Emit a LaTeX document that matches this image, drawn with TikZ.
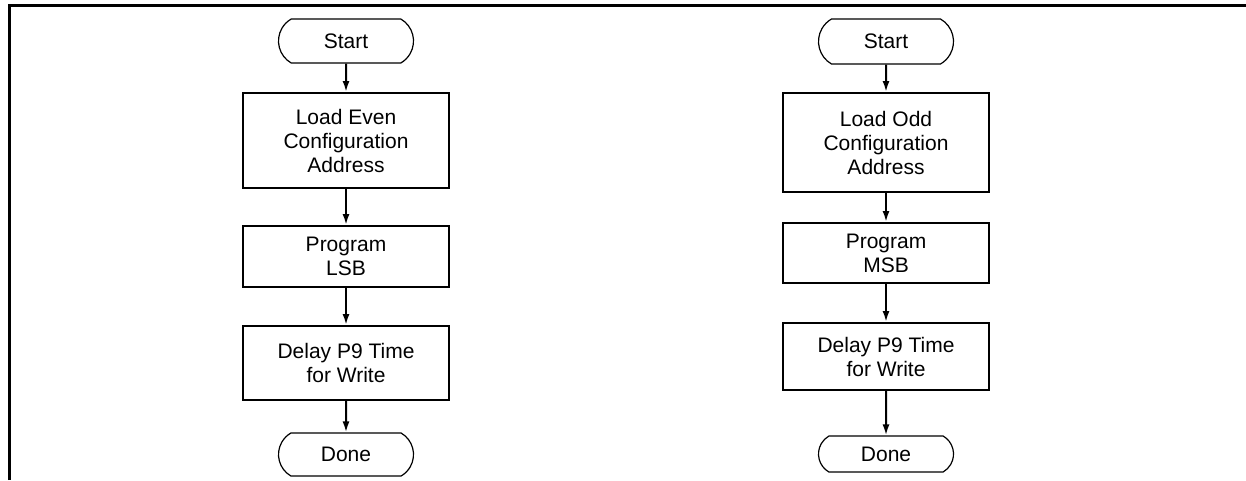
\documentclass[tikz,border=0pt]{standalone}
\usepackage{fontspec}
\setmainfont{Liberation Sans}
\usetikzlibrary{shapes.misc,arrows.meta}
\tikzset{
  base/.style={font=\fontsize{21}{24}\selectfont, align=center, inner sep=0pt},
  term/.style={base, draw, line width=1.2pt, rounded rectangle, rounded rectangle arc length=120, minimum width=135pt, minimum height=44pt},
  proc/.style={base, draw, line width=2pt, rectangle, minimum width=206pt},
  flow/.style={line width=2pt, -{Latex[length=11pt,width=7pt]}},
  frameline/.style={line width=3pt}
}
\begin{document}
\begin{tikzpicture}[x=1pt,y=-1pt]
\useasboundingbox (0,0) rectangle (1246,480);
\coordinate (fa) at (9,480);
\coordinate (fb) at (9,5);
\coordinate (fc) at (1246,5);
\draw[frameline] (fa) -- (fb) -- (fc);

% left flow
\node[term] (ls) at (346,41) {Start};
\node[proc, minimum height=95pt] (l1) at (346,140.5) {Load Even\\Configuration\\Address};
\node[proc, minimum height=61pt] (l2) at (346,256.5) {Program\\LSB};
\node[proc, minimum height=74pt] (l3) at (346,363) {Delay P9 Time\\for Write};
\node[term, minimum height=43pt] (ld) at (346,454.5) {Done};
\draw[flow] (ls) -- (l1);
\draw[flow] (l1) -- (l2);
\draw[flow] (l2) -- (l3);
\draw[flow] (l3) -- (ld);

% right flow
\node[term, minimum height=45pt] (rs) at (886,41.5) {Start};
\node[proc, minimum height=99pt] (r1) at (886,142.5) {Load Odd\\Configuration\\Address};
\node[proc, minimum height=60pt] (r2) at (886,253) {Program\\MSB};
\node[proc, minimum height=67pt] (r3) at (886,356.5) {Delay P9 Time\\for Write};
\node[term, minimum height=36pt] (rd) at (886,454) {Done};
\draw[flow] (rs) -- (r1);
\draw[flow] (r1) -- (r2);
\draw[flow] (r2) -- (r3);
\draw[flow] (r3) -- (rd);
\end{tikzpicture}
\end{document}
